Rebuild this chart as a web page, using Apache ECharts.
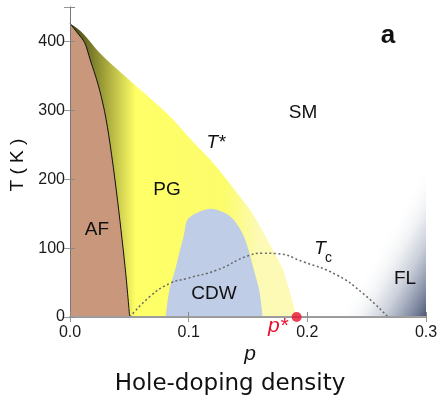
<!DOCTYPE html>
<html>
<head>
    <meta charset="utf-8">
    <title>phase diagram</title>
    <script type="text/javascript" src="https://cdn.jsdelivr.net/npm/echarts@6/dist/echarts.min.js"></script>
    <style>
        html, body { margin: 0; padding: 0; background: #fff; }
    </style>
</head>
<body>
    <div id="main" style="width: 440px;height:399px;"></div>
    <script type="text/javascript">
        // values: [p, T]
        var afBoundary = [[0, 426], [0.006, 413], [0.0124, 398], [0.0169, 374], [0.0236, 338], [0.0292, 298],
            [0.0336, 253], [0.0393, 180], [0.0464, 73], [0.0503, 0]];
        var tStar = [[0, 426], [0.0095, 414], [0.0264, 381], [0.0545, 337], [0.0826, 294], [0.105, 252],
            [0.121, 223], [0.152, 155], [0.157, 141], [0.171, 97], [0.1796, 68], [0.191, 0]];
        var cdwDome = [[0.0806, 0], [0.0837, 39], [0.0885, 68], [0.0927, 97], [0.096, 119], [0.099, 141],
            [0.1068, 151], [0.118, 157], [0.1306, 151], [0.138, 141], [0.146, 119], [0.1505, 97],
            [0.155, 68], [0.1595, 39], [0.1624, 0]];
        var tcCurve = [[0.0506, 0], [0.0675, 30], [0.0843, 49], [0.0984, 56], [0.1237, 68], [0.1503, 89],
            [0.163, 92.5], [0.174, 92], [0.1967, 80], [0.2248, 61], [0.247, 34], [0.268, 0]];
        var flRegion = [[0.225, 0], [0.3, 0], [0.3, 225]];
        var pStar = [[0.191, 0]];

        var xTickLabels = ['0.0', '0.1', '0.2', '0.3'];
        var yTickLabels = ['0', '100', '200', '300', '400'];

        var labelFont = '"Liberation Sans", Arial, sans-serif';

        var chartDom = document.getElementById('main');
        var myChart = echarts.init(chartDom);

        // text placed in pixels
        function txt(x, y, text, size, extra, rotation) {
            var style = {
                text: text,
                fill: '#111',
                fontSize: size,
                fontFamily: labelFont,
                align: 'center',
                verticalAlign: 'middle'
            };
            for (var k in extra) style[k] = extra[k];
            return { type: 'text', z: 30, x: x, y: y, rotation: rotation || 0, style: style };
        }

        var option = {
            animation: false,
            grid: { left: 70, right: 14, top: 7, bottom: 82, containLabel: false, outerBoundsMode: 'none' },
            xAxis: [
                {
                    type: 'value', min: 0, max: 0.3, interval: 0.1, z: 10,
                    axisLine: { lineStyle: { color: '#a0a0a0', width: 2 } },
                    axisTick: { inside: true, length: 5, lineStyle: { color: '#888' } },
                    splitLine: { show: false },
                    axisLabel: {
                        margin: 8, fontSize: 16, fontFamily: labelFont, color: '#1a1a1a',
                        formatter: function (v) { return xTickLabels[Math.round(v / 0.1)]; }
                    }
                },
                {
                    type: 'value', position: 'top', min: 0, max: 0.3, interval: 0.1, z: 10,
                    axisLine: { show: true, lineStyle: { color: '#999', width: 1 } },
                    axisTick: { show: true, inside: true, length: 5, lineStyle: { color: '#999' } },
                    splitLine: { show: false },
                    axisLabel: { show: false }
                }
            ],
            yAxis: [
                {
                    type: 'value', min: 0, max: 450, interval: 100, z: 10,
                    axisLine: { show: true, lineStyle: { color: '#888', width: 1 } },
                    axisTick: { show: true, inside: true, length: 5, lineStyle: { color: '#888' } },
                    splitLine: { show: false },
                    axisLabel: {
                        margin: 5, fontSize: 16, fontFamily: labelFont, color: '#1a1a1a',
                        formatter: function (v) { return yTickLabels[Math.round(v / 100)]; }
                    }
                },
                {
                    type: 'value', position: 'right', min: 0, max: 450, interval: 100, z: 10,
                    axisLine: { show: true, lineStyle: { color: '#777', width: 1 } },
                    axisTick: { show: true, inside: true, length: 6, lineStyle: { color: '#999' } },
                    splitLine: { show: false },
                    axisLabel: { show: false }
                }
            ],
            series: [
                {
                    // FL shading in the corner
                    type: 'custom',
                    z: 1,
                    data: flRegion,
                    renderItem: function (params, api) {
                        if (params.dataIndex !== 0) return;
                        var pts = flRegion.map(function (d) { return api.coord(d); });
                        var A = pts[0], B = pts[1], C = pts[2];
                        var vx = C[0] - A[0], vy = C[1] - A[1];
                        var t = ((B[0] - A[0]) * vx + (B[1] - A[1]) * vy) / (vx * vx + vy * vy);
                        var F = [A[0] + t * vx, A[1] + t * vy];
                        return {
                            type: 'polygon',
                            shape: { points: pts },
                            style: {
                                fill: new echarts.graphic.LinearGradient(F[0], F[1], B[0], B[1], [
                                    { offset: 0, color: 'rgba(255,255,255,0)' },
                                    { offset: 0.3, color: '#eef0f3' },
                                    { offset: 0.52, color: '#cbd0da' },
                                    { offset: 0.66, color: '#aab1c2' },
                                    { offset: 0.85, color: '#7a849d' },
                                    { offset: 1, color: '#4d5878' }
                                ], true)
                            }
                        };
                    }
                },
                {
                    name: 'PG',
                    type: 'line', z: 2, data: tStar, symbol: 'none',
                    smooth: 0.3,
                    lineStyle: { width: 0 },
                    areaStyle: {
                        opacity: 1,
                        color: new echarts.graphic.LinearGradient(0, 0, 1, 0, [
                            { offset: 0, color: '#3d3d12' },
                            { offset: 0.12, color: '#8c8c30' },
                            { offset: 0.29, color: '#ffff66' },
                            { offset: 0.68, color: '#fcfc6c' },
                            { offset: 0.83, color: '#fcfab4' },
                            { offset: 1, color: '#fcfab6' }
                        ])
                    }
                },
                {
                    name: 'CDW',
                    type: 'line', z: 3, data: cdwDome, symbol: 'none',
                    smooth: 0.3,
                    lineStyle: { width: 0 },
                    areaStyle: { opacity: 1, color: '#bfcde6' }
                },
                {
                    name: 'AF',
                    type: 'line', z: 4, data: afBoundary, symbol: 'none',
                    smooth: 0.3,
                    lineStyle: { width: 1, color: '#111' },
                    areaStyle: { opacity: 1, color: '#c9977b' }
                },
                {
                    name: 'Tc',
                    type: 'line', z: 5, data: tcCurve, symbol: 'none',
                    smooth: 0.5,
                    lineStyle: { width: 1.5, color: '#666', type: [2, 2.5] }
                },
                {
                    name: 'p*',
                    type: 'scatter', z: 20, clip: false, data: pStar,
                    symbolSize: 10,
                    itemStyle: { color: '#e8102c' }
                }
            ],
            graphic: [
                txt(388, 36, 'a', 26, { fontWeight: 'bold' }),
                txt(303, 113, 'SM', 19),
                txt(216, 143, 'T*', 19, { fontStyle: 'italic' }),
                txt(167, 190, 'PG', 19),
                txt(97, 230, 'AF', 19),
                txt(214, 294, 'CDW', 19),
                txt(320, 249, 'T', 19, { fontStyle: 'italic' }),
                txt(328.5, 258, 'c', 14),
                txt(405, 279, 'FL', 19),
                txt(278, 326, 'p*', 21, { fontStyle: 'italic', fill: '#e8102c' }),
                txt(250, 354, 'p', 21, { fontStyle: 'italic' }),
                txt(230, 384, 'Hole-doping density', 23, { fontFamily: '"DejaVu Sans", sans-serif' }),
                txt(18, 165, 'T ( K )', 19, {}, Math.PI / 2)
            ]
        };
        myChart.setOption(option);
    </script>
</body>
</html>
